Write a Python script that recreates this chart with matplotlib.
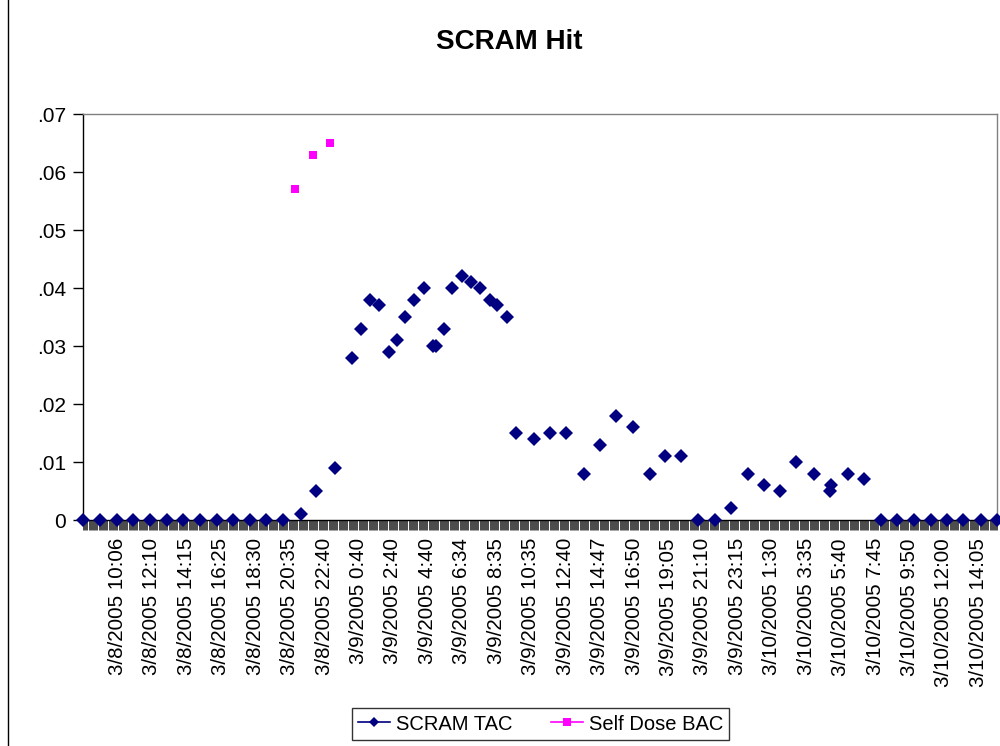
import matplotlib
matplotlib.use("Agg")
import matplotlib.pyplot as plt
from matplotlib.lines import Line2D

# ---------------- data ----------------
title = "SCRAM Hit"
n_rows = 824          # number of category rows on the x axis
label_step = 31       # a tick label every 31 rows
tick_labels = [
    "3/8/2005 10:06", "3/8/2005 12:10", "3/8/2005 14:15", "3/8/2005 16:25",
    "3/8/2005 18:30", "3/8/2005 20:35", "3/8/2005 22:40", "3/9/2005 0:40",
    "3/9/2005 2:40", "3/9/2005 4:40", "3/9/2005 6:34", "3/9/2005 8:35",
    "3/9/2005 10:35", "3/9/2005 12:40", "3/9/2005 14:47", "3/9/2005 16:50",
    "3/9/2005 19:05", "3/9/2005 21:10", "3/9/2005 23:15", "3/10/2005 1:30",
    "3/10/2005 3:35", "3/10/2005 5:40", "3/10/2005 7:45", "3/10/2005 9:50",
    "3/10/2005 12:00", "3/10/2005 14:05",
]

scram_rows = [0, 15, 31, 45, 60, 76, 90, 105, 121, 135, 150, 165, 180,
              196, 210, 227, 242, 250, 258, 266, 275, 283, 290, 298, 307,
              315, 318, 325, 332, 341, 349, 357, 366, 373, 382, 390, 406,
              420, 435, 451, 465, 480, 495, 510, 524, 538, 554, 569, 583,
              599, 613, 627, 642, 658, 672, 673, 689, 703, 718, 733, 748,
              763, 778, 792, 808, 823]
scram_tac = [0, 0, 0, 0, 0, 0, 0, 0, 0, 0, 0, 0, 0,
             0.001, 0.005, 0.009, 0.028, 0.033, 0.038, 0.037, 0.029, 0.031,
             0.035, 0.038, 0.040, 0.030, 0.030, 0.033, 0.040, 0.042, 0.041,
             0.040, 0.038, 0.037, 0.035, 0.015, 0.014, 0.015, 0.015, 0.008,
             0.013, 0.018, 0.016, 0.008, 0.011, 0.011, 0, 0, 0.002, 0.008,
             0.006, 0.005, 0.010, 0.008, 0.005, 0.006, 0.008, 0.007,
             0, 0, 0, 0, 0, 0, 0, 0]

self_rows = [191, 207, 222]
self_bac = [0.057, 0.063, 0.065]

y_ticks = [0, 0.01, 0.02, 0.03, 0.04, 0.05, 0.06, 0.07]

navy = "#000080"
magenta = "#FF00FF"

# ---------------- figure ----------------
plt.rcParams['font.family'] = ['Liberation Sans', 'DejaVu Sans']
W, H = 1000, 746
fig = plt.figure(figsize=(W / 100, H / 100), dpi=100)
fig.patch.set_facecolor("white")

left, right, top, bottom = 83, 997.3, 114, 520
ax = fig.add_axes([left / W, 1 - bottom / H, (right - left) / W, (bottom - top) / H])

ax.plot(scram_rows, scram_tac, linestyle="none", marker="D", markersize=6.8,
        color=navy, markeredgewidth=0, clip_on=False, zorder=5, label="SCRAM TAC")
ax.plot(self_rows, self_bac, linestyle="none", marker="s", markersize=6.2,
        color=magenta, markeredgewidth=0, clip_on=False, zorder=5, label="Self Dose BAC")

ax.set_xlim(0, n_rows - 1)
ax.set_ylim(0, 0.07)

# x axis: a tick per row, label every label_step rows
ax.set_xticks(range(n_rows), minor=True)
label_pos = [label_step * (i + 1) for i in range(len(tick_labels))]
ax.set_xticks(label_pos)
ax.set_xticklabels(tick_labels, rotation=90, ha="center", va="top")
ax.tick_params(axis="x", which="both", direction="out", length=7, width=0.5,
               color="black")
ax.tick_params(axis="x", which="major", pad=6, labelsize=14.8)

ax.set_yticks(y_ticks)
ax.set_yticklabels([("%.2f" % v).lstrip("0") if v else "0" for v in y_ticks])
ax.tick_params(axis="y", direction="out", length=7, width=1, pad=5,
               labelsize=15, color="black")

for s in ("top", "right"):
    ax.spines[s].set_color("#808080")
    ax.spines[s].set_linewidth(1)
for s in ("left", "bottom"):
    ax.spines[s].set_color("black")
    ax.spines[s].set_linewidth(1)

fig.text(509.5 / W, 1 - 42 / H, title, ha="center", va="center",
         fontsize=20, fontweight="bold")

handles = [
    Line2D([], [], color=navy, marker="D", markersize=5.5, linewidth=1.2,
           markeredgewidth=0),
    Line2D([], [], color=magenta, marker="s", markersize=5.5, linewidth=1.2,
           markeredgewidth=0),
]
leg = fig.legend(handles, ["SCRAM TAC", "Self Dose BAC"], loc="center",
                 bbox_to_anchor=(540.5 / W, 1 - 724 / H), ncol=2, frameon=True,
                 fancybox=False, shadow=False, fontsize=14.5, handlelength=1.6,
                 handletextpad=0.3, columnspacing=1.9, borderpad=0.3,
                 borderaxespad=0)
leg.get_frame().set_edgecolor("black")
leg.get_frame().set_linewidth(1)

# chart-area border (left edge visible)
fig.add_artist(Line2D([7.5 / W, 7.5 / W], [0, 1], color="black", linewidth=1,
                      transform=fig.transFigure))

fig.savefig("out.png", dpi=100)
